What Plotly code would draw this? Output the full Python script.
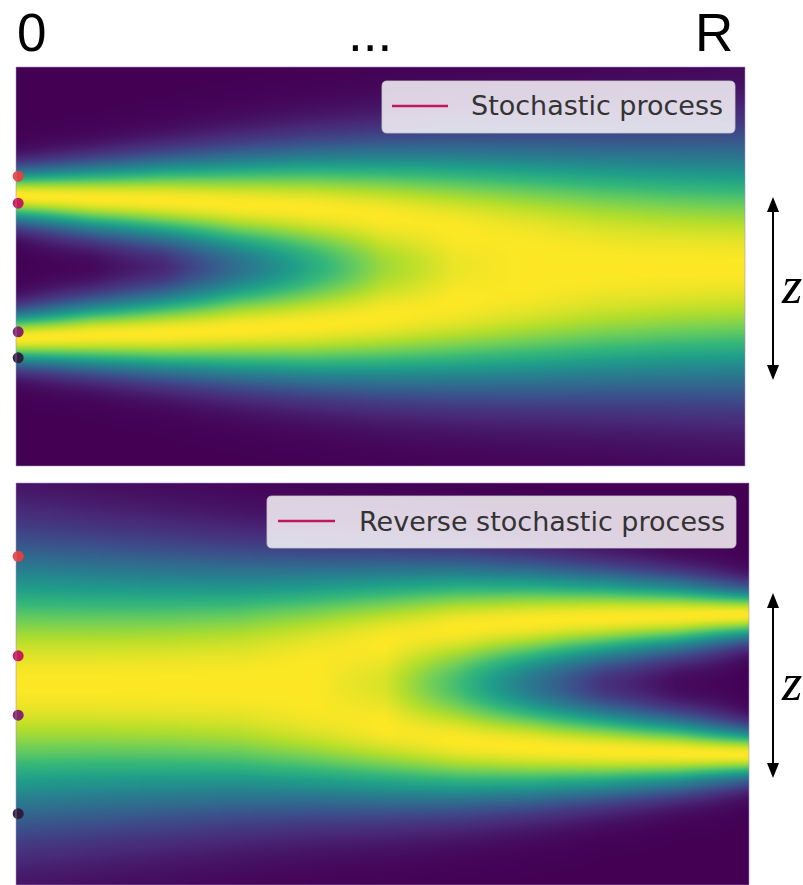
import numpy as np
import plotly.graph_objects as go

W, H = 803, 885

# time stations along each panel (0 = start, 1 = R)
stations = [0.0, 0.1, 0.2, 0.3, 0.4, 0.5, 0.6, 0.7, 0.8, 0.9, 1.0]

# forward process: half-distance between the two modes and their spread (z units)
fwd_offset = [0.715, 0.69, 0.67, 0.63, 0.60, 0.56, 0.53, 0.51, 0.49, 0.47, 0.45]
fwd_spread = [0.18, 0.23, 0.28, 0.34, 0.39, 0.44, 0.48, 0.51, 0.54, 0.57, 0.60]

# reverse process: same quantities
rev_offset = [0.45, 0.46, 0.47, 0.48, 0.50, 0.53, 0.585, 0.63, 0.665, 0.685, 0.70]
rev_spread = [0.70, 0.65, 0.60, 0.55, 0.50, 0.46, 0.405, 0.35, 0.29, 0.235, 0.17]

# starting samples drawn at the left edge of each panel
fwd_start_z = [0.905, 0.635, -0.655, -0.915]
rev_start_z = [1.27, 0.28, -0.31, -1.29]
sample_colors = ["#ea3f3c", "#c3145a", "#7d1c6b", "#2d1a3a"]

fwd_label = "Stochastic process"
rev_label = "Reverse stochastic process"
line_color = "#c2185b"

z_grid = np.linspace(-2, 2, 401)


def density(offsets, spreads):
    cols = []
    for m, s in zip(offsets, spreads):
        p = np.exp(-0.5 * ((z_grid - m) / s) ** 2) + np.exp(-0.5 * ((z_grid + m) / s) ** 2)
        cols.append(p / p.max())
    return np.array(cols).T


def px(x):
    return x / W


def py(y):
    return 1 - y / H


fig = go.Figure()

panels = [
    dict(xa="x", ya="y", off=fwd_offset, spr=fwd_spread, starts=fwd_start_z,
         xdom=[px(16), px(745)], ydom=[py(466), py(67)]),
    dict(xa="x2", ya="y2", off=rev_offset, spr=rev_spread, starts=rev_start_z,
         xdom=[px(16), px(749)], ydom=[py(885), py(483)]),
]

for p in panels:
    fig.add_trace(go.Heatmap(
        x=stations, y=z_grid, z=density(p["off"], p["spr"]),
        colorscale="Viridis", zmin=0, zmax=1, zsmooth="best",
        showscale=False, hoverinfo="skip", xaxis=p["xa"], yaxis=p["ya"]))
    fig.add_trace(go.Scatter(
        x=[stations[0]] * len(p["starts"]), y=p["starts"], mode="markers",
        marker=dict(size=11, color=sample_colors, opacity=0.95),
        cliponaxis=False, hoverinfo="skip", xaxis=p["xa"], yaxis=p["ya"]))

axis_common = dict(visible=False, showgrid=False, zeroline=False, fixedrange=True)
fig.update_layout(
    width=W, height=H, margin=dict(l=0, r=0, t=0, b=0),
    paper_bgcolor="white", plot_bgcolor="white", showlegend=False,
    xaxis=dict(domain=panels[0]["xdom"], range=[-0.003, 1], anchor="y", **axis_common),
    yaxis=dict(domain=panels[0]["ydom"], range=[-2, 2], anchor="x", **axis_common),
    xaxis2=dict(domain=panels[1]["xdom"], range=[-0.003, 1], anchor="y2", **axis_common),
    yaxis2=dict(domain=panels[1]["ydom"], range=[-2, 2], anchor="x2", **axis_common),
)

shapes = []
annotations = []

# thin frame around each panel
for x0, x1, y0, y1 in [(16, 745, 67, 466), (16, 749, 483, 885)]:
    shapes.append(dict(type="rect", xref="paper", yref="paper",
                       x0=px(x0), x1=px(x1), y0=py(y1), y1=py(y0),
                       line=dict(color="rgba(170,140,200,0.55)", width=1)))


def rounded_box(x0, y0, x1, y1, r):
    rx, ry = r / W, r / H
    X0, X1, Y0, Y1 = px(x0), px(x1), py(y0), py(y1)
    return (f"M {X0+rx},{Y0} L {X1-rx},{Y0} Q {X1},{Y0} {X1},{Y0-ry} "
            f"L {X1},{Y1+ry} Q {X1},{Y1} {X1-rx},{Y1} L {X0+rx},{Y1} "
            f"Q {X0},{Y1} {X0},{Y1+ry} L {X0},{Y0-ry} Q {X0},{Y0} {X0+rx},{Y0} Z")


# legend boxes
for (bx0, by0, bx1, by1, lx0, lx1, ly, tx, label) in [
        (382, 81, 735, 133, 392, 448, 106, 469, fwd_label),
        (267, 496, 736, 548, 278, 335, 521, 357, rev_label)]:
    shapes.append(dict(type="path", xref="paper", yref="paper",
                       path=rounded_box(bx0, by0, bx1, by1, 5),
                       fillcolor="rgba(255,255,255,0.82)",
                       line=dict(color="rgba(200,200,200,0.8)", width=1)))
    shapes.append(dict(type="line", xref="paper", yref="paper",
                       x0=px(lx0), x1=px(lx1), y0=py(ly), y1=py(ly),
                       line=dict(color=line_color, width=2.5)))
    annotations.append(dict(xref="paper", yref="paper", x=px(tx), y=py(ly),
                            xanchor="left", yanchor="middle", showarrow=False,
                            text=label,
                            font=dict(family="DejaVu Sans", size=27, color="#333333")))

# double-headed z arrows
for ytop, ybot in [(197, 380), (593, 778)]:
    xc = 773
    head_w, head_h = 6, 15
    shapes.append(dict(type="line", xref="paper", yref="paper",
                       x0=px(xc), x1=px(xc), y0=py(ytop + 5), y1=py(ybot - 5),
                       line=dict(color="black", width=2)))
    for tip, base in [(ytop, ytop + head_h), (ybot, ybot - head_h)]:
        shapes.append(dict(type="path", xref="paper", yref="paper",
                           path=(f"M {px(xc)},{py(tip)} L {px(xc-head_w)},{py(base)} "
                                 f"L {px(xc+head_w)},{py(base)} Z"),
                           fillcolor="black", line=dict(color="black", width=0)))
    annotations.append(dict(xref="paper", yref="paper", x=1.0,
                            y=py((ytop + ybot) / 2 - 3),
                            xanchor="right", yanchor="middle", showarrow=False,
                            borderpad=0, text="<i>z</i>",
                            font=dict(family="Liberation Serif", size=52, color="black")))

# time labels above the panels
for text, xc in [("0", 31), ("...", 370), ("R", 714)]:
    annotations.append(dict(xref="paper", yref="paper", x=px(xc), y=py(33),
                            xanchor="center", yanchor="middle", showarrow=False,
                            text=text,
                            font=dict(family="Liberation Sans", size=53, color="black")))

fig.update_layout(shapes=shapes, annotations=annotations)
fig.write_html("out.html")
